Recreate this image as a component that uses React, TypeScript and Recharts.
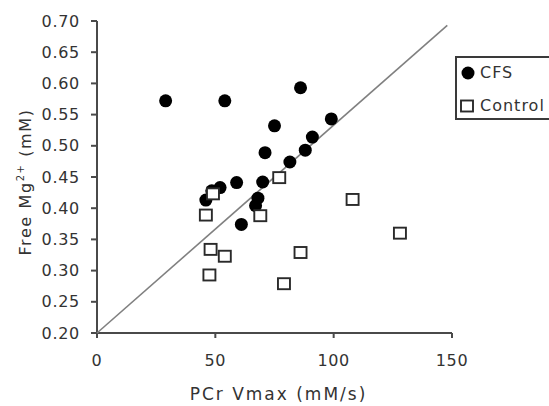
import { ScatterChart, Scatter, XAxis, YAxis, Legend } from "recharts";

const cfsX = [29, 54, 86, 75, 71, 91, 88, 99, 81.5, 70, 59, 52, 46, 68, 67, 61, 48.5];
const cfsY = [0.572, 0.572, 0.593, 0.532, 0.489, 0.514, 0.493, 0.543, 0.474, 0.442, 0.441, 0.433, 0.413, 0.416, 0.404, 0.374, 0.428];

const controlX = [49, 46, 69, 77, 48, 54, 47.5, 86, 79, 108, 128];
const controlY = [0.423, 0.389, 0.388, 0.449, 0.334, 0.323, 0.293, 0.329, 0.279, 0.414, 0.36];

const lineX = [0, 148];
const lineY = [0.2, 0.693];

const xTicks = [0, 50, 100, 150];
const yTicks = [0.2, 0.25, 0.3, 0.35, 0.4, 0.45, 0.5, 0.55, 0.6, 0.65, 0.7];

const zip = (xs: number[], ys: number[]) => xs.map((x, i) => ({ x, y: ys[i] }));
const cfsData = zip(cfsX, cfsY);
const controlData = zip(controlX, controlY);
const lineData = zip(lineX, lineY);

const FONT = "'DejaVu Sans', sans-serif";
const TEXT = "#333";
const AXIS = "#4a4a4a";

const Dot = (props: any) => <circle cx={props.cx} cy={props.cy} r={6.5} fill="#000" />;
const Box = (props: any) => (
	<rect x={props.cx - 6} y={props.cy - 5.5} width={12} height={11} fill="#fff" stroke="#2a2a2a" strokeWidth={1.9} />
);

const YTitle = (props: any) => {
	const vb = props.viewBox ?? { x: 0, y: 21, width: 97, height: 312 };
	const cx = vb.x + 31;
	const cy = vb.y + vb.height / 2 + 5;
	return (
		<text
			x={cx}
			y={cy}
			transform={`rotate(-90, ${cx}, ${cy})`}
			textAnchor="middle"
			fontFamily={FONT}
			fontSize={16}
			letterSpacing={1.6}
			fill={TEXT}
		>
			Free Mg
			<tspan fontSize={10} dy={-7}>2+</tspan>
			<tspan dy={7}> (mM)</tspan>
		</text>
	);
};

const LegendBox = () => (
	<div
		style={{
			position: "relative",
			width: 100,
			height: 60,
			border: "2px solid #3a3a3a",
			background: "#fff",
			fontFamily: FONT,
			fontSize: 16,
			letterSpacing: 1,
			color: TEXT,
		}}
	>
		<svg width={20} height={20} style={{ position: "absolute", left: 1, top: 5 }}>
			<circle cx={10} cy={10} r={6.5} fill="#000" />
		</svg>
		<span style={{ position: "absolute", left: 23, top: 5, lineHeight: "20px" }}>CFS</span>
		<svg width={20} height={20} style={{ position: "absolute", left: 0, top: 38 }}>
			<rect x={4} y={4.5} width={12} height={11} fill="#fff" stroke="#2a2a2a" strokeWidth={1.9} />
		</svg>
		<span style={{ position: "absolute", left: 23, top: 38, lineHeight: "20px" }}>Control</span>
	</div>
);

export default function App() {
	return (
		<div style={{ position: "absolute", left: 0, top: 0, width: 549, height: 406, background: "#fff" }}>
			<ScatterChart width={549} height={406} margin={{ top: 21, right: 97, bottom: 23, left: 0 }}>
				<XAxis
					type="number"
					dataKey="x"
					domain={[0, 150]}
					ticks={xTicks}
					height={50}
					stroke={AXIS}
					strokeWidth={2}
					tickSize={5}
					tickMargin={17}
					tick={{ fill: TEXT, fontFamily: FONT, fontSize: 16, letterSpacing: 0.6 }}
					label={{
						value: "PCr Vmax (mM/s)",
						position: "bottom",
						offset: 5,
						dx: 4,
						fill: TEXT,
						fontFamily: FONT,
						fontSize: 17,
						letterSpacing: 2,
					}}
				/>
				<YAxis
					type="number"
					dataKey="y"
					domain={[0.2, 0.7]}
					ticks={yTicks}
					width={97}
					stroke={AXIS}
					strokeWidth={2}
					tickSize={6}
					tickMargin={11}
					tickFormatter={(v: number) => v.toFixed(2)}
					tick={{ fill: TEXT, fontFamily: FONT, fontSize: 16, letterSpacing: 0.7 }}
					label={(p: any) => <YTitle {...p} />}
				/>
				<Legend
					layout="vertical"
					align="center"
					verticalAlign="middle"
					wrapperStyle={{ left: 455, top: 56, width: "auto" }}
					content={() => <LegendBox />}
				/>
				<Scatter
					name="line"
					data={lineData}
					line={{ stroke: "#808080", strokeWidth: 1.6 }}
					shape={() => <g />}
					legendType="none"
					isAnimationActive={false}
				/>
				<Scatter name="CFS" data={cfsData} shape={Dot} isAnimationActive={false} />
				<Scatter name="Control" data={controlData} shape={Box} isAnimationActive={false} />
			</ScatterChart>
		</div>
	);
}
